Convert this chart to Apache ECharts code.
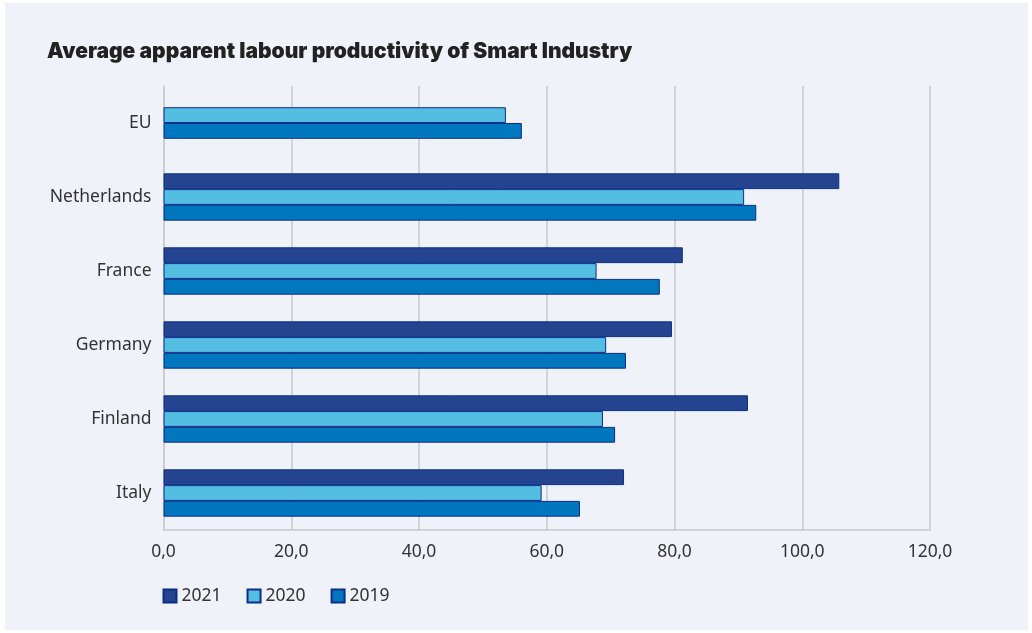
<!DOCTYPE html>
<html>
<head>
<meta charset="utf-8">
<script src="https://cdn.jsdelivr.net/npm/echarts@6/dist/echarts.min.js"></script>
<style>
  html, body { margin: 0; padding: 0; background: #ffffff; }
  #panel { position: absolute; left: 5px; top: 3px; width: 1023px; height: 627px; background: #eff2f9; }
  #chart { position: absolute; left: 0; top: 0; width: 1023px; height: 627px; }
</style>
</head>
<body>
<div id="panel"><div id="chart"></div></div>
<script>
// Countries, top to bottom
const categories = ['EU', 'Netherlands', 'France', 'Germany', 'Finland', 'Italy'];
// Average apparent labour productivity per year (EU has no 2021 value)
const values2021 = [null, 105.8, 81.3, 79.6, 91.5, 72.1];
const values2020 = [53.6, 90.9, 67.8, 69.3, 68.8, 59.2];
const values2019 = [56.1, 92.8, 77.7, 72.4, 70.7, 65.2];
const xTicks = { min: 0, max: 120, interval: 20 };

const edge = '#0b2f8a';
const gridColor = '#c8c8ca';
const seriesDefs = [
  { name: '2021', data: values2021, color: '#25448f' },
  { name: '2020', data: values2020, color: '#54bde2' },
  { name: '2019', data: values2019, color: '#0077bf' }
];

// Rows where some year is missing get their remaining bars centred in the row,
// so they are drawn on a second (hidden) category axis with a wider gap.
const gapRows = categories.map((c, i) => seriesDefs.some(s => s.data[i] == null));

const fullSeries = seriesDefs.map(s => ({
  name: s.name,
  type: 'bar',
  yAxisIndex: 0,
  data: s.data.map((v, i) => gapRows[i] ? null : v),
  barGap: '0%',
  barCategoryGap: '36%',
  itemStyle: { color: s.color, borderColor: edge, borderWidth: 1 }
}));

// Bars of the rows with a missing year (EU: 2020 and 2019)
const partialDefs = seriesDefs.filter(s => s.data.some((v, i) => gapRows[i] && v != null));
const share = (1 - 0.36) / 3 * partialDefs.length;
const partialSeries = partialDefs.map(s => ({
  name: s.name,
  type: 'bar',
  yAxisIndex: 1,
  data: s.data.map((v, i) => gapRows[i] ? v : null),
  barGap: '0%',
  barCategoryGap: ((1 - share) * 100).toFixed(2) + '%',
  itemStyle: { color: s.color, borderColor: edge, borderWidth: 1 }
}));

const labelFont = { fontSize: 17.5, color: '#333333', fontFamily: 'Noto Sans' };

const chart = echarts.init(document.getElementById('chart'));
chart.setOption({
  animation: false,
  backgroundColor: 'transparent',
  title: {
    text: 'Average apparent labour productivity of Smart Industry',
    left: 42, top: 38, padding: 0,
    textStyle: { fontFamily: 'Inter', fontWeight: 900, fontSize: 21, color: '#222222' }
  },
  legend: {
    left: 157.5, top: 584, padding: 0,
    itemWidth: 13, itemHeight: 13, itemGap: 25,
    icon: 'rect',
    textStyle: labelFont,
    data: seriesDefs.map(s => s.name)
  },
  grid: { left: 158.5, right: 98, top: 83, bottom: 100, containLabel: false },
  xAxis: {
    type: 'value',
    min: xTicks.min, max: xTicks.max, interval: xTicks.interval,
    axisLine: { show: true, lineStyle: { color: gridColor, width: 1.5 } },
    axisTick: { show: false },
    splitLine: { lineStyle: { color: gridColor, width: 1.5 } },
    axisLabel: Object.assign({ margin: 13, formatter: v => v.toFixed(1).replace('.', ',') }, labelFont)
  },
  yAxis: [
    {
      type: 'category',
      inverse: true,
      data: categories,
      axisLine: { show: true, lineStyle: { color: gridColor, width: 1.5 } },
      axisTick: { show: false },
      axisLabel: Object.assign({ margin: 12 }, labelFont)
    },
    {
      type: 'category',
      inverse: true,
      position: 'left',
      data: categories,
      show: false
    }
  ],
  series: fullSeries.concat(partialSeries)
});
</script>
</body>
</html>
